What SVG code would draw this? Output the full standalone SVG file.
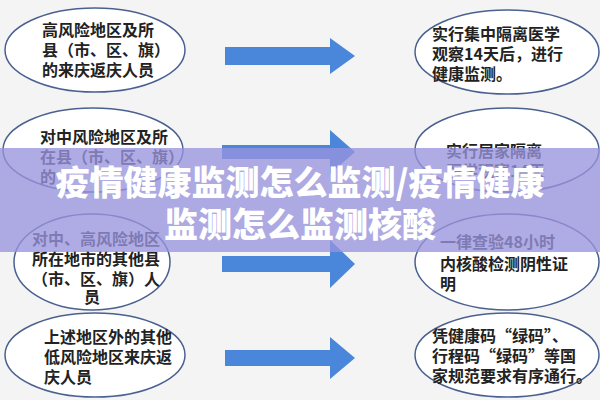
<svg xmlns="http://www.w3.org/2000/svg" width="600" height="400" viewBox="0 0 600 400">
<style>
.e{fill:#fff;stroke:#4a6190;stroke-width:1.5}
.t{font-family:"Noto Sans CJK SC",sans-serif;font-weight:bold;font-size:16px;fill:#222}
.a{fill:#4a86d9}
.b{font-family:"Noto Sans CJK SC",sans-serif;font-weight:900;font-size:34px;fill:#fff;text-anchor:middle}
</style>
<rect width="600" height="400" fill="#f4f4f4"/>
<g id="connectors">
<polygon class="a" points="225,47 330,47 330,38 355,56 330,74 330,65 225,65"/>
<polygon class="a" points="222,145 330,145 330,130 355,152 330,174 330,159 222,159"/>
<polygon class="a" points="222,256 330,256 330,240 355,264 330,288 330,272 222,272"/>
<polygon class="a" points="225,350 330,350 330,337 355,358 330,379 330,366 225,366"/>
</g>
<g id="l1"><ellipse class="e" cx="95" cy="50" rx="90" ry="42"/><text class="t" x="42" y="36">高风险地区及所</text><text class="t" x="42" y="56">县（市、区、旗）</text><text class="t" x="42" y="76">的来庆返庆人员</text></g>
<g id="l2"><ellipse class="e" cx="93" cy="150" rx="90" ry="42"/><text class="t" x="40" y="143">对中风险地区及所</text><text class="t" x="40" y="163">在县（市、区、旗）</text><text class="t" x="40" y="183">的</text></g>
<g id="l3"><ellipse class="e" cx="92" cy="262" rx="78" ry="48"/><text class="t" x="32" y="245">对中、高风险地区</text><text class="t" x="32" y="265">所在地市的其他县</text><text class="t" x="32" y="285">（市、区、旗）人</text><text class="t" x="84" y="303">员</text></g>
<g id="l4"><ellipse class="e" cx="95" cy="355" rx="90" ry="42"/><text class="t" x="44" y="343">上述地区外的其他</text><text class="t" x="44" y="363">低风险地区来庆返</text><text class="t" x="44" y="383">庆人员</text></g>
<g id="r1"><ellipse class="e" cx="507" cy="52" rx="92" ry="42"/><text class="t" x="432" y="40">实行集中隔离医学</text><text class="t" x="432" y="60">观察14天后，进行</text><text class="t" x="432" y="80">健康监测。</text></g>
<g id="r2"><ellipse class="e" cx="507" cy="150" rx="92" ry="42"/><text class="t" x="446" y="157">实行居家隔离</text><text class="t" x="446" y="177">医学观察14天</text></g>
<g id="r3"><ellipse class="e" cx="507" cy="262" rx="92" ry="48"/><text class="t" x="440" y="248">一律查验48小时</text><text class="t" x="440" y="270">内核酸检测阴性证</text><text class="t" x="440" y="290">明</text></g>
<g id="r4"><ellipse class="e" cx="507" cy="355" rx="92" ry="42"/><text class="t" x="432" y="342">凭健康码“绿码”、</text><text class="t" x="432" y="362">行程码“绿码”等国</text><text class="t" x="432" y="382">家规范要求有序通行。</text></g>
<rect x="0" y="148" width="600" height="104" fill="#9894dc" fill-opacity="0.78"/>
<text class="b" x="300" y="195">疫情健康监测怎么监测/疫情健康</text>
<text class="b" x="300" y="237">监测怎么监测核酸</text>
</svg>
